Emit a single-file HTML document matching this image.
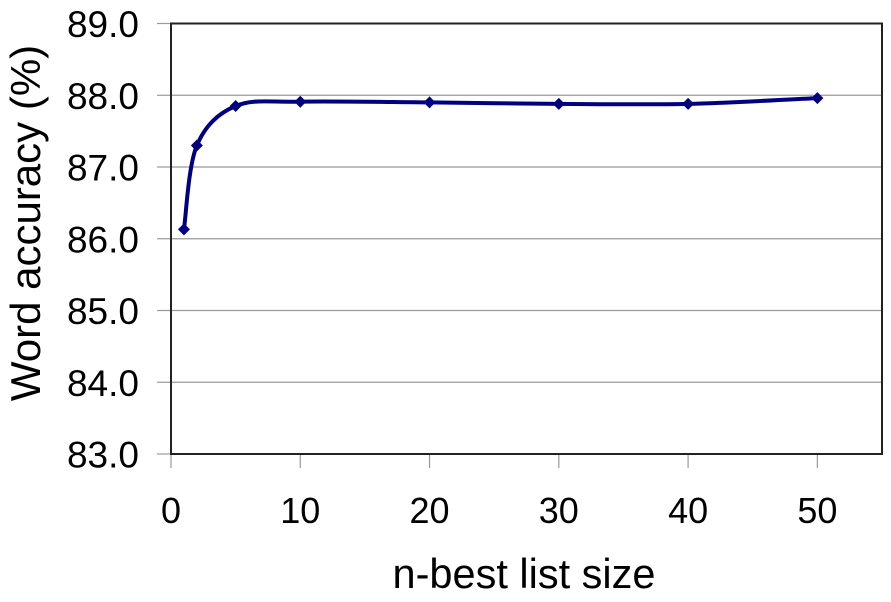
<!DOCTYPE html>
<html><head><meta charset="utf-8"><style>
body{margin:0;background:#fff;}
svg text{font-family:"Liberation Sans",Arial,sans-serif;fill:#000;}
</style></head><body>
<svg id="chart" width="891" height="597" xmlns="http://www.w3.org/2000/svg"></svg>
<script>
const xValues = [1, 2, 5, 10, 20, 30, 40, 50];
const yValues = [86.13, 87.3, 87.85, 87.91, 87.9, 87.88, 87.88, 87.96];
const yTicks = [83, 84, 85, 86, 87, 88, 89];
const xTicks = [0, 10, 20, 30, 40, 50];

const L=171,R=882,T=23.5,B=454;
const xMin=0,xMax=55,yMin=83,yMax=89;
const xs=v=>L+(v-xMin)/(xMax-xMin)*(R-L);
const ys=v=>B-(v-yMin)/(yMax-yMin)*(B-T);
const svg=document.getElementById('chart');
const NS='http://www.w3.org/2000/svg';
function mk(tag,attrs,parent){const e=document.createElementNS(NS,tag);for(const k in attrs)e.setAttribute(k,attrs[k]);(parent||svg).appendChild(e);return e;}

yTicks.forEach(t=>{
  const y=ys(t);
  if(t>yMin&&t<yMax){const g=mk('line',{x1:L,x2:R,y1:y,y2:y,stroke:'#999','stroke-width':1.2});
  
  }
  const tk=mk('line',{x1:L-14,x2:L,y1:y,y2:y,stroke:'#999','stroke-width':1.2});
  
  
  const tx=mk('text',{x:L-32,y:y+13.5,'text-anchor':'end','font-size':37});
  tx.textContent=t.toFixed(1);
  
  
});
xTicks.forEach(t=>{
  const x=xs(t);
  const tk=mk('line',{x1:x,x2:x,y1:B,y2:B+14,stroke:'#999','stroke-width':1.2});
  
  
  const tx=mk('text',{x:x,y:B+69,'text-anchor':'middle','font-size':36});
  tx.textContent=t;
  
  
});
const frame=mk('rect',{x:L,y:T,width:R-L,height:B-T,fill:'none',stroke:'#222','stroke-width':2});



const pts=xValues.map((v,i)=>[xs(v),ys(yValues[i])]);
let d='M'+pts[0][0]+','+pts[0][1];
const k=1/6;
for(let i=0;i<pts.length-1;i++){
  const p0=pts[Math.max(0,i-1)],p1=pts[i],p2=pts[i+1],p3=pts[Math.min(pts.length-1,i+2)];
  const c1=[p1[0]+(p2[0]-p0[0])*k,p1[1]+(p2[1]-p0[1])*k];
  const c2=[p2[0]-(p3[0]-p1[0])*k,p2[1]-(p3[1]-p1[1])*k];
  d+=' C'+c1+' '+c2+' '+p2;
}
const line=mk('path',{d:d,fill:'none',stroke:'#000080','stroke-width':4});


pts.forEach(p=>{
  const m=mk('polygon',{points:`${p[0]},${p[1]-6} ${p[0]+6},${p[1]} ${p[0]},${p[1]+6} ${p[0]-6},${p[1]}`,fill:'#000080'});
  
  
});
const xt=mk('text',{x:524,y:588,'text-anchor':'middle','font-size':41.5});
xt.textContent='n-best list size';


const yt=mk('text',{x:0,y:0,'text-anchor':'middle','font-size':42,transform:`translate(40,223) rotate(-90)`});
yt.textContent='Word accuracy (%)';


</script>
</body></html>
